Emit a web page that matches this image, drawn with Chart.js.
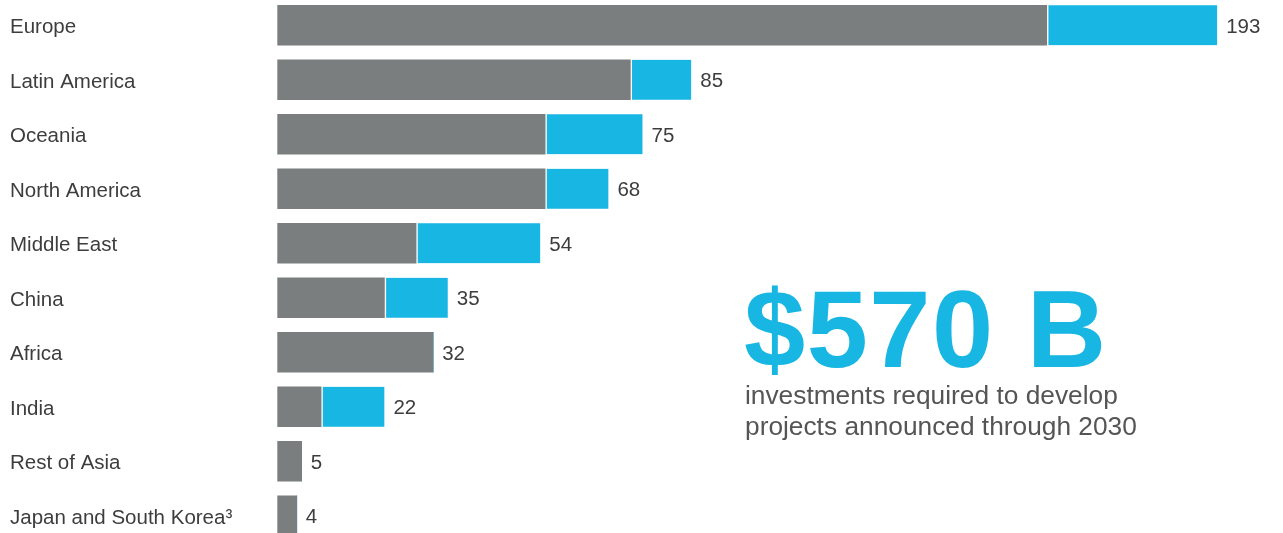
<!DOCTYPE html>
<html>
<head>
<meta charset="utf-8">
<script src="https://cdn.jsdelivr.net/npm/chart.js"></script>
<style>
  html, body { margin: 0; padding: 0; background: #fff; overflow: hidden; }
  body { width: 1283px; height: 533px; position: relative; font-family: "Liberation Sans", Arial, Helvetica, sans-serif; }
  #wrap { position: absolute; left: 0; top: -2.25px; width: 1283px; height: 545px; }
  #big { position: absolute; left: 744px; top: 274px; font-size: 110px; line-height: 110px; letter-spacing: 1.5px; font-weight: bold; color: #17b6e3; white-space: nowrap; }
  #sub { position: absolute; left: 745px; top: 380px; font-size: 26.3px; line-height: 31px; color: #555; white-space: nowrap; }
</style>
</head>
<body>
<div id="wrap"><canvas id="regionChart"></canvas></div>
<div id="big">$570 B</div>
<div id="sub">investments required to develop<br>projects announced through 2030</div>
<script>
// 地区
const regions = ['Europe', 'Latin America', 'Oceania', 'North America', 'Middle East',
                 'China', 'Africa', 'India', 'Rest of Asia', 'Japan and South Korea³'];
// 灰色部分
const grayPart = [158, 72.5, 55, 55, 28.5, 22, 32, 9, 5, 4];
// 蓝色部分
const bluePart = [35, 12.5, 20, 13, 25.5, 13, 0, 13, 0, 0];
// 条形末端的合计标签
const totalLabels = ['193', '85', '75', '68', '54', '35', '32', '22', '5', '4'];

const GRAY = '#7b7e7f';
const BLUE = '#17b6e3';
const FONT = '"Liberation Sans", Arial, Helvetica, sans-serif';

// 在每根条形末端画合计值
const totalsPlugin = {
    id: 'totals',
    afterDatasetsDraw(chart) {
        const ctx = chart.ctx;
        const lastMeta = chart.getDatasetMeta(chart.data.datasets.length - 1);
        ctx.save();
        ctx.font = '20.5px ' + FONT;
        ctx.fillStyle = '#3d3d3d';
        ctx.textAlign = 'left';
        ctx.textBaseline = 'middle';
        lastMeta.data.forEach((bar, i) => {
            ctx.fillText(totalLabels[i], bar.x + 9, bar.y + 2);
        });
        ctx.restore();
    }
};

const ctx = document.getElementById('regionChart').getContext('2d');
window.regionChart = new Chart(ctx, {
    type: 'bar',
    data: {
        labels: regions,
        datasets: [
            {
                label: 'gray',
                data: grayPart,
                backgroundColor: GRAY,
                borderWidth: 0,
                barThickness: 40
            },
            {
                label: 'blue',
                data: bluePart,
                backgroundColor: BLUE,
                borderColor: '#ffffff',
                borderWidth: { left: 2, top: 0, right: 0, bottom: 0 },
                borderSkipped: false,
                barThickness: 40
            }
        ]
    },
    options: {
        indexAxis: 'y',
        responsive: true,
        maintainAspectRatio: false,
        animation: false,
        layout: { padding: { left: 10, right: 2.5, top: 0, bottom: 0 } },
        scales: {
            x: {
                stacked: true,
                display: false,
                min: 0,
                max: 206
            },
            y: {
                stacked: true,
                grid: { display: false },
                border: { display: false },
                ticks: {
                    crossAlign: 'far',
                    labelOffset: 2.5,
                    color: '#3d3d3d',
                    font: { size: 20.5, family: FONT }
                },
                afterFit(scale) {
                    // 固定宽度，并去掉刻度文字带来的上下留白
                    scale.width = 267.3;
                    scale.paddingTop = 0;
                    scale.paddingBottom = 0;
                }
            }
        },
        plugins: {
            legend: { display: false },
            tooltip: { enabled: true }
        }
    },
    plugins: [totalsPlugin]
});
</script>
</body>
</html>
